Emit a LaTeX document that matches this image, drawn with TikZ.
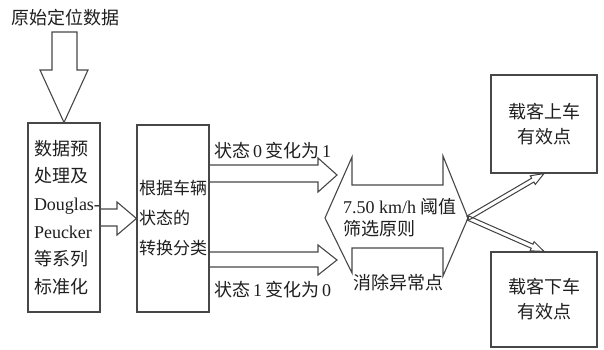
\documentclass[tikz,border=0pt]{standalone}
\usepackage{fontspec}
\setmainfont{Liberation Serif}
\newfontfamily\cjk{Noto Sans CJK SC}
\usetikzlibrary{calc}
\newcommand{\zh}[1]{{\cjk #1}}
\begin{document}
\begin{tikzpicture}[x=1pt,y=-1pt,
  ln/.style={draw=black!72,line width=1.1pt,line join=miter},
  boxnode/.style={draw=black!72,line width=1.1pt,inner sep=0pt,text=black!88},
  txt/.style={text=black!88,inner sep=0pt},
  thinarr/.style={draw=black!75,line width=1pt,line join=miter}]
\useasboundingbox (0,0) rectangle (604,350);
\fill[white] (0,0) rectangle (604,350);

% title
\node[txt,anchor=west,font=\fontsize{18}{22}\selectfont] (title) at (11,18) {\zh{原始定位数据}};

% boxes
\node[boxnode,minimum width=72pt,minimum height=189pt,align=left,
      font=\fontsize{18}{27.6}\selectfont] (b1) at (64,217.5)
  {\zh{数据预}\\\zh{处理及}\\Douglas\rlap{-}\\Peucker\\\zh{等系列}\\\zh{标准化}};
\node[boxnode,minimum width=72pt,minimum height=187pt,align=left,
      font=\fontsize{17}{30}\selectfont] (b2) at (173,218.5)
  {\zh{根据车辆}\\\zh{状态的}\\\zh{转换分类}};
\node[boxnode,minimum width=106pt,minimum height=98pt,align=center,
      font=\fontsize{18}{25}\selectfont] (up) at (544,124)
  {\zh{载客上车}\\\zh{有效点}};
\node[boxnode,minimum width=106pt,minimum height=95pt,align=center,
      font=\fontsize{18}{25}\selectfont] (down) at (544,299.5)
  {\zh{载客下车}\\\zh{有效点}};

% down arrow from title
\draw[ln] (52,32) -- (77,32) -- (77,70) -- (88,70) -- (b1.north) -- (40,70) -- (52,70) -- cycle;

% box1 -> box2
\draw[ln] (b1.east |- 0,209) -- (117,209) -- (117,202) -- (b2.west) -- (117,235) -- (117,226) -- (b1.east |- 0,226);

% state arrows
\draw[ln] (b2.east |- 0,165) -- (318,165) -- (318,158) -- (337,175) -- (318,192) -- (318,182) -- (b2.east |- 0,182);
\draw[ln] (b2.east |- 0,252) -- (318,252) -- (318,245) -- (337,260) -- (318,275) -- (318,267) -- (b2.east |- 0,267);

\node[txt,anchor=west,font=\fontsize{18}{22}\selectfont] (l1) at (214,151) {\zh{状态}\,0\,\zh{变化为}\,1};
\node[txt,anchor=west,font=\fontsize{18}{22}\selectfont] (l2) at (214,290) {\zh{状态}\,1\,\zh{变化为}\,0};

% big double arrow
\coordinate (bt) at (468,218);
\draw[ln] (325,218) -- (352,157) -- (352,185) -- (443,185) -- (443,156) -- (bt) -- (443,276) -- (443,248) -- (352,248) -- (352,273) -- cycle;
\node[txt,anchor=west,align=left,font=\fontsize{18}{22}\selectfont] (crit) at (343,218)
  {7.50 km/h \zh{阈值}\\\zh{筛选原则}};
\node[txt,font=\fontsize{18}{22}\selectfont] (rm) at (398,283) {\zh{消除异常点}};

% thin hollow arrows
\foreach \tgt in {up.south,down.north}{
  \coordinate (E) at (\tgt);
  \coordinate (H) at ($(E)!13pt!(bt)$);
  \draw[thinarr]
    ($(bt)!2.2pt!90:(E)$) -- ($(H)!2.2pt!-90:(bt)$) -- ($(H)!5pt!-90:(bt)$) -- (E)
    -- ($(H)!5pt!90:(bt)$) -- ($(H)!2.2pt!90:(bt)$) -- ($(bt)!2.2pt!-90:(E)$) -- cycle;
}
\end{tikzpicture}
\end{document}
